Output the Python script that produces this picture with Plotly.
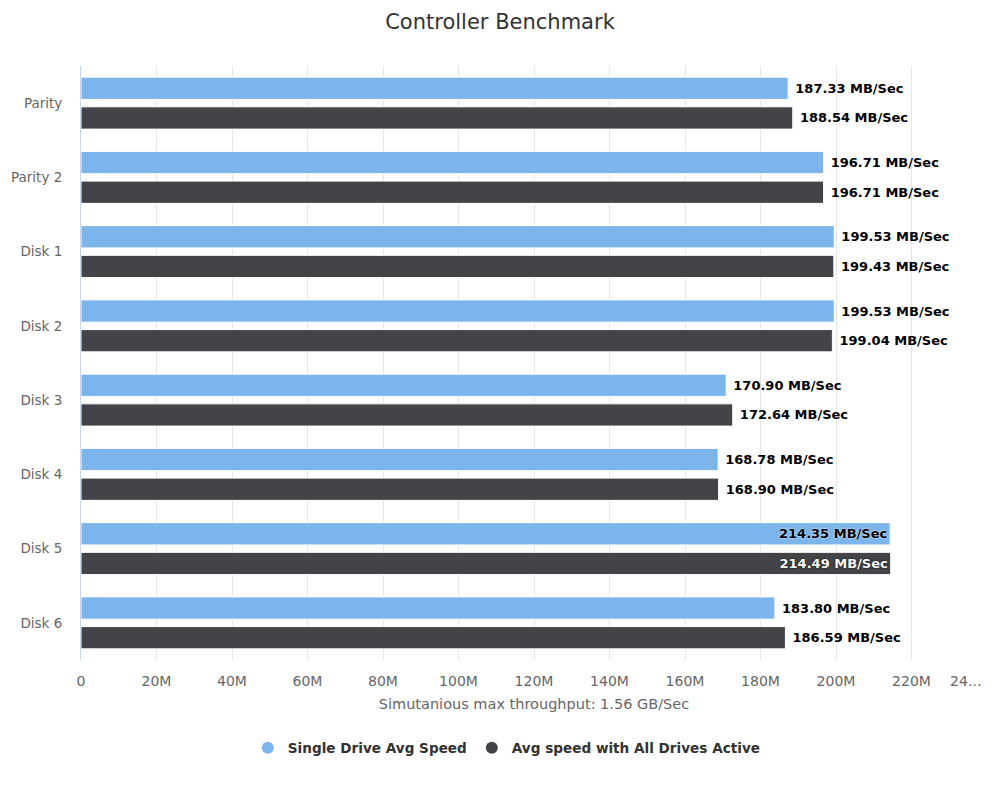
import plotly.graph_objects as go

categories = ["Parity", "Parity 2", "Disk 1", "Disk 2", "Disk 3", "Disk 4", "Disk 5", "Disk 6"]
single_speed = [187.33, 196.71, 199.53, 199.53, 170.90, 168.78, 214.35, 183.80]
all_active_speed = [188.54, 196.71, 199.43, 199.04, 172.64, 168.90, 214.49, 186.59]
series_names = ["Single Drive Avg Speed", "Avg speed with All Drives Active"]
tick_values = [0, 20, 40, 60, 80, 100, 120, 140, 160, 180, 200, 220, 240]
tick_labels = ["0", "20M", "40M", "60M", "80M", "100M", "120M", "140M", "160M", "180M", "200M", "220M", "24…"]
inside_categories = ["Disk 5"]

FONT = "DejaVu Sans"
colors = ["#7cb5ec", "#434348"]

fig = go.Figure()
for name, vals, col, in_col, shadow in [
    (series_names[0], single_speed, colors[0], "#000000", "0 0 2px #ffffff"),
    (series_names[1], all_active_speed, colors[1], "#ffffff", "0 0 2px #000000"),
]:
    positions = ["inside" if c in inside_categories else "outside" for c in categories]
    fig.add_trace(go.Bar(
        y=categories, x=vals, orientation="h", name=name,
        marker=dict(color=col, line=dict(color="#ffffff", width=1)),
        texttemplate="\u00a0<b>%{x:.2f} MB/Sec</b>",
        textposition=positions,
        insidetextanchor="end",
        textangle=0,
        constraintext="none",
        cliponaxis=False,
        outsidetextfont=dict(family=FONT, size=13, color="#000000"),
        insidetextfont=dict(family=FONT, size=13, color=in_col, shadow=shadow),
        showlegend=False,
        hoverinfo="x+y",
    ))
    fig.add_trace(go.Scatter(
        x=[None], y=[None], mode="markers", name=name,
        marker=dict(color=col, size=14, symbol="circle"),
        showlegend=True,
    ))

# last tick label is right-aligned to fit inside the figure (as in the reference)
shown_ticktext = tick_labels[:-1] + [""]
fig.add_annotation(
    x=tick_values[-1], xref="x", y=0, yref="paper",
    text=tick_labels[-1], showarrow=False,
    xanchor="right", yanchor="top", xshift=-3, yshift=-11,
    font=dict(family=FONT, size=14, color="#666666"),
)

fig.update_layout(
    width=1000, height=788,
    margin=dict(l=81, r=13, t=66, b=128, autoexpand=False),
    paper_bgcolor="#ffffff", plot_bgcolor="#ffffff",
    barmode="group", bargap=0.2, bargroupgap=0.25,
    title=dict(text="Controller Benchmark", x=0.5, xanchor="center", y=0.973, yanchor="middle",
               font=dict(family=FONT, size=21, color="#333333")),
    font=dict(family=FONT, size=13, color="#666666"),
    legend=dict(orientation="h", x=0.470, xanchor="center", y=-0.148, yanchor="middle",
                font=dict(family=FONT, size=13.6, color="#333333", weight="bold"),
                itemsizing="constant", itemwidth=30),
    xaxis=dict(range=[0, 240], tickvals=tick_values, ticktext=shown_ticktext, tickangle=0,
               automargin=False,
               showgrid=True, gridcolor="#e6e6e6", gridwidth=1, zeroline=False,
               showline=False, ticks="", ticklabelstandoff=11,
               tickfont=dict(family=FONT, size=14, color="#666666"),
               title=dict(text="Simutanious max throughput: 1.56 GB/Sec", standoff=10,
                          font=dict(family=FONT, size=14.5, color="#666666"))),
    yaxis=dict(autorange="reversed", showgrid=False, showline=True, linecolor="#ccd6eb",
               linewidth=1, ticks="", ticklabelstandoff=15, automargin=False,
               tickfont=dict(family=FONT, size=13.5, color="#666666")),
)

fig.write_html("out.html")
